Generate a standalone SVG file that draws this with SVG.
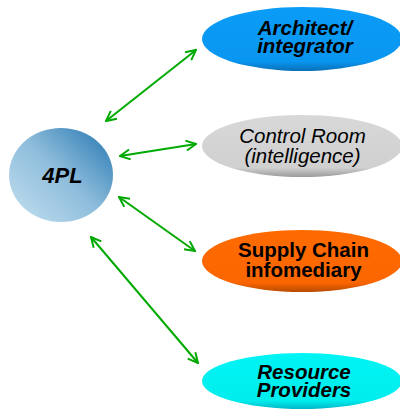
<svg xmlns="http://www.w3.org/2000/svg" width="400" height="409" viewBox="0 0 400 409">
<defs>
<style>
.lbl{font-family:"Liberation Sans",Arial,sans-serif;font-size:20.5px;text-anchor:middle;fill:#000}
.bi{font-weight:bold;font-style:italic}
.b{font-weight:bold}
.i{font-style:italic}
.con{stroke:#00aa00;stroke-width:2;fill:none;marker-start:url(#ah);marker-end:url(#ah)}
</style>
<marker id="ah" viewBox="0 0 12 12" refX="11" refY="6" markerWidth="6" markerHeight="6" orient="auto-start-reverse" markerUnits="strokeWidth">
<path d="M1,1 L11,6 L1,11" fill="none" stroke="#00aa00" stroke-width="2"/>
</marker>
<linearGradient id="g4pl" x1="0.15" y1="0.85" x2="0.9" y2="0.15">
<stop offset="0" stop-color="#b4d6ea"/>
<stop offset="0.5" stop-color="#8dbcdb"/>
<stop offset="1" stop-color="#3d87bb"/>
</linearGradient>
<linearGradient id="gA" x1="0" y1="0" x2="0" y2="1">
<stop offset="0" stop-color="#0a9cf7"/><stop offset="0.85" stop-color="#0996f0"/><stop offset="1" stop-color="#0a6fb8"/>
</linearGradient>
<linearGradient id="gC" x1="0" y1="0" x2="0" y2="1">
<stop offset="0" stop-color="#d8d8d8"/><stop offset="0.85" stop-color="#d0d0d0"/><stop offset="1" stop-color="#9a9a9a"/>
</linearGradient>
<linearGradient id="gS" x1="0" y1="0" x2="0" y2="1">
<stop offset="0" stop-color="#ff6a00"/><stop offset="0.85" stop-color="#fb6600"/><stop offset="1" stop-color="#b84a00"/>
</linearGradient>
<linearGradient id="gR" x1="0" y1="0" x2="0" y2="1">
<stop offset="0" stop-color="#00f4f4"/><stop offset="0.85" stop-color="#00eded"/><stop offset="1" stop-color="#00b8c8"/>
</linearGradient>
</defs>
<rect width="400" height="409" fill="#fff"/>
<g id="connectors">
<line class="con" x1="106" y1="121" x2="196" y2="50"/>
<line class="con" x1="120" y1="156" x2="196" y2="144"/>
<line class="con" x1="119" y1="197" x2="195" y2="251"/>
<line class="con" x1="91" y1="237" x2="198" y2="363"/>
</g>
<g id="n4pl">
<ellipse cx="61" cy="175" rx="52" ry="47" fill="url(#g4pl)"/>
<text class="lbl bi" x="62.5" y="183" style="font-size:22px">4PL</text>
</g>
<g id="architect">
<ellipse cx="302" cy="39" rx="100" ry="32" fill="url(#gA)"/>
<text class="lbl bi" x="305" y="35">Architect/</text>
<text class="lbl bi" x="305" y="53">integrator</text>
</g>
<g id="control">
<ellipse cx="302" cy="146" rx="100" ry="31" fill="url(#gC)"/>
<text class="lbl i" x="302.5" y="143">Control Room</text>
<text class="lbl i" x="302.5" y="163">(intelligence)</text>
</g>
<g id="supply">
<ellipse cx="302" cy="261" rx="100" ry="31" fill="url(#gS)"/>
<text class="lbl b" x="303.5" y="256.5">Supply Chain</text>
<text class="lbl b" x="303.5" y="276.5">infomediary</text>
</g>
<g id="resource">
<ellipse cx="302" cy="381" rx="100" ry="28" fill="url(#gR)"/>
<text class="lbl bi" x="304" y="379">Resource</text>
<text class="lbl bi" x="304" y="396.5">Providers</text>
</g>
</svg>
